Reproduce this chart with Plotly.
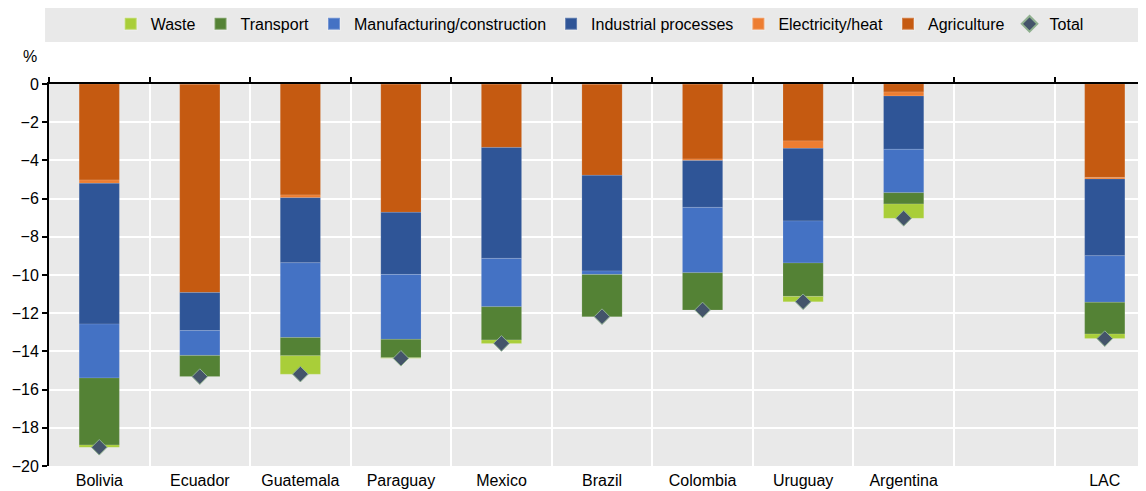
import plotly.graph_objects as go

countries = ['Bolivia', 'Ecuador', 'Guatemala', 'Paraguay', 'Mexico', 'Brazil',
             'Colombia', 'Uruguay', 'Argentina', ' ', 'LAC']

# contributions in percentage points (negative = reduction)
agriculture = [-5.03, -10.92, -5.81, -6.72, -3.32, -4.78, -3.93, -2.98, -0.42, None, -4.89]
electricity = [-0.17, 0.0, -0.14, 0.0, 0.0, 0.0, -0.08, -0.39, -0.21, None, -0.08]
industrial = [-7.37, -1.99, -3.41, -3.25, -5.81, -5.01, -2.45, -3.80, -2.79, None, -4.02]
manufacturing = [-2.82, -1.30, -3.91, -3.40, -2.53, -0.18, -3.42, -2.20, -2.27, None, -2.44]
transport = [-3.51, -1.11, -0.96, -0.96, -1.74, -2.21, -1.95, -1.75, -0.59, None, -1.66]
waste = [-0.12, 0.0, -0.96, -0.03, -0.18, 0.0, 0.0, -0.28, -0.75, None, -0.24]
total = [-19.02, -15.32, -15.19, -14.36, -13.58, -12.18, -11.83, -11.40, -7.03, None, -13.33]

font_family = 'Liberation Sans, Arial, sans-serif'

fig = go.Figure()

# stacking order from zero downward; legend order as in the original
stack = [
    ('Agriculture', agriculture, '#C55A11'),
    ('Electricity/heat', electricity, '#ED7D31'),
    ('Industrial processes', industrial, '#2F5597'),
    ('Manufacturing/construction', manufacturing, '#4472C4'),
    ('Transport', transport, '#548235'),
    ('Waste', waste, '#A9CE39'),
]
legend_rank = {'Waste': 1, 'Transport': 2, 'Manufacturing/construction': 3,
               'Industrial processes': 4, 'Electricity/heat': 5, 'Agriculture': 6}

for name, vals, color in stack:
    fig.add_trace(go.Bar(
        x=countries, y=vals, name=name,
        marker=dict(color=color, line=dict(color='rgba(255,255,255,0.25)', width=0.5)),
        width=0.4, legendrank=legend_rank[name],
    ))

fig.add_trace(go.Scatter(
    x=countries, y=total, name='Total', mode='markers',
    marker=dict(symbol='diamond', size=12, color='#44546A',
                line=dict(color='#8FB08F', width=1)),
    legendrank=7,
))

# invisible trace for the top axis (line at zero with boundary ticks)
fig.add_trace(go.Scatter(x=countries, y=[None] * len(countries), xaxis='x2',
                         showlegend=False, hoverinfo='skip'))

# grey band behind the legend
fig.add_shape(type='rect', xref='paper', yref='paper',
              x0=-0.0036, x1=1.0, y0=1.110, y1=1.21,
              fillcolor='#E9E9E9', line=dict(width=0), layer='below')

fig.add_annotation(text='%', xref='paper', yref='paper', x=-0.0173, y=1.071,
                   xanchor='center', yanchor='middle', showarrow=False,
                   font=dict(size=16, color='#000000', family=font_family))

# the page body adds an 8px offset, so the figure is 8px smaller than the window
fig.update_layout(
    width=1138, height=483,
    barmode='relative',
    paper_bgcolor='white',
    plot_bgcolor='#E9E9E9',
    font=dict(family=font_family, size=16, color='#000000'),
    margin=dict(l=41, r=0, t=76, b=25, autoexpand=False),
    showlegend=True,
    legend=dict(orientation='h', x=0.502, xanchor='center',
                yref='container', y=0.967, yanchor='middle',
                bgcolor='rgba(0,0,0,0)', font=dict(size=16),
                traceorder='normal', itemsizing='constant', itemwidth=30),
    xaxis=dict(type='category', categoryorder='array', categoryarray=countries,
               range=[-0.5, 10.41], tickson='boundaries', showgrid=True,
               gridcolor='white', gridwidth=2, showline=False, ticks='',
               tickfont=dict(size=16), ticklabelstandoff=3, automargin=False),
    xaxis2=dict(type='category', categoryorder='array', categoryarray=countries,
                overlaying='x', side='top', matches='x', tickson='boundaries',
                showgrid=False, showline=True, linecolor='black', linewidth=2,
                ticks='outside', ticklen=5, tickwidth=2, tickcolor='black',
                showticklabels=False, automargin=False),
    yaxis=dict(range=[-20, 0], dtick=2, showgrid=True, gridcolor='white', gridwidth=2,
               zeroline=False, showline=True, linecolor='black', linewidth=2,
               ticks='outside', ticklen=5, tickwidth=2, tickcolor='black',
               tickfont=dict(size=16), automargin=False),
)

fig.write_html("out.html")
